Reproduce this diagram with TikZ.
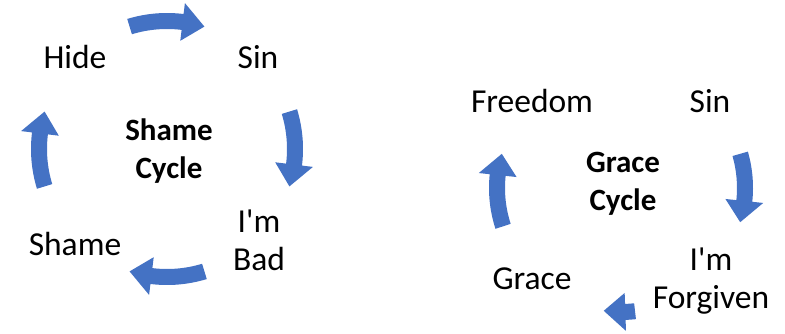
\documentclass[tikz,border=0pt]{standalone}
\usepackage{fontspec}
\setmainfont{Carlito}
\usepackage{tikz}
\usetikzlibrary{positioning,calc}
\definecolor{arrowblue}{RGB}{68,114,196}

% curved cycle arrow: centre, radius, from angle, tip angle
\newcommand{\cyclearrow}[4]{%
	\pgfmathsetmacro{\headang}{#4+10*sign(#3-#4)}
	\fill[arrowblue,shift={(#1)}] (#3:#2+8) arc[start angle=#3,end angle=\headang,radius=#2+8]
		-- (\headang:#2+19) -- (#4:#2) -- (\headang:#2-19) -- (\headang:#2-8)
		arc[start angle=\headang,end angle=#3,radius=#2-8] -- cycle;
}

\begin{document}
\begin{tikzpicture}[x=1pt,y=1pt,% all in pixel units
			every node/.style={
				align=center,	% so that "\\" works
				inner sep=0pt,
				anchor=base	% base = baseline of the last line
			},
			step label/.style={font=\fontsize{33.5}{38}\selectfont},
			cycle title/.style={font=\fontsize{31}{38}\selectfont\bfseries}
		]
		\useasboundingbox (0,0) rectangle (785,333);
		\coordinate (shamec) at (167,184);
		\coordinate (gracec) at (621,145);

		% Shame cycle
		\node[cycle title](shametitle) at (169,155){Shame\\Cycle};
		\node[step label](hide) at (75,265){Hide};
		\node[step label](sin1) at (258,265){Sin};
		\node[step label](bad) at (259,63){I\textquotesingle m\\Bad};
		\node[step label](shame) at (75,78){Shame};
		\cyclearrow{shamec}{128}{107}{73}
		\cyclearrow{shamec}{128}{17}{-17}
		\cyclearrow{shamec}{128}{-73}{-107}
		\cyclearrow{shamec}{128}{197}{163}

		% Grace cycle
		\node[cycle title](gracetitle) at (623,123){Grace\\Cycle};
		\node[step label](freedom) at (532,221){Freedom};
		\node[step label](sin2) at (710,221){Sin};
		\node[step label](forgiven) at (711,25){I\textquotesingle m\\Forgiven};
		\node[step label](grace) at (532,44){Grace};
		\cyclearrow{gracec}{124}{16}{-16}
		\cyclearrow{gracec}{124}{-83.5}{-98}
		\cyclearrow{gracec}{124}{198}{164}
	\end{tikzpicture}
\end{document}
